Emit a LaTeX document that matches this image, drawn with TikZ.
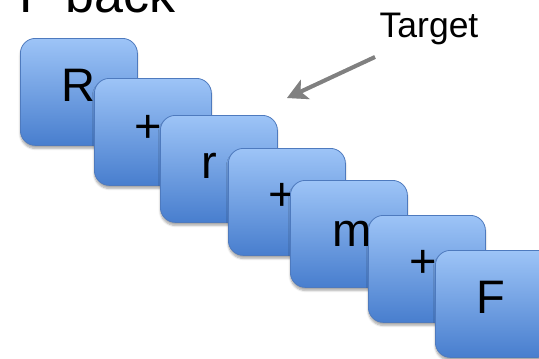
\documentclass[tikz,border=0pt]{standalone}
\usepackage{fontspec}
\setmainfont{Liberation Sans}
\usetikzlibrary{arrows.meta,shadows.blur}

\definecolor{tiletop}{RGB}{157,196,247}
\definecolor{tilebot}{RGB}{72,126,206}
\definecolor{tileedge}{RGB}{78,122,190}
\definecolor{pointer}{RGB}{128,128,128}

\tikzset{
  tile/.style={draw=tileedge, line width=0.8pt, rounded corners=15pt,
    top color=tiletop, bottom color=tilebot,
    minimum width=117pt, minimum height=107pt, inner sep=0pt,
    anchor=north west,
    blur shadow={shadow xshift=0pt, shadow yshift=-3pt,
                 shadow blur steps=6, shadow opacity=35}},
  glyph/.style={font=\fontsize{47}{47}\selectfont, inner sep=0pt, anchor=center},
  caption/.style={font=\fontsize{35.5}{35.5}\selectfont, inner sep=0pt, anchor=base},
  heading/.style={font=\fontsize{52}{52}\selectfont, inner sep=0pt, anchor=base west},
  pointerline/.style={draw=pointer, line width=4pt,
    -{Stealth[length=20pt, width=21pt, inset=5pt]}}
}

\begin{document}
\begin{tikzpicture}[x=1pt, y=-1pt]
  \useasboundingbox (0,0) rectangle (539,359);
  \clip (0,0) rectangle (539,359);

  % heading, running off the top edge
  \node[heading] (head) at (19,12) {F back};

  % the chain of tiles, each one laid over the previous one
  \node[tile] (t1) at (20,38)  {};
  \node[glyph] (g1) at (78,85) {R};
  \node[tile] (t2) at (94,78)  {};
  \node[glyph] (g2) at (148,128.5) {+};
  \node[tile] (t3) at (160,115) {};
  \node[glyph] (g3) at (209.5,166) {r};
  \node[tile] (t4) at (228,148) {};
  \node[glyph] (g4) at (282,197) {+};
  \node[tile] (t5) at (290,180) {};
  \node[glyph] (g5) at (352,233.5) {m};
  \node[tile] (t6) at (368,215) {};
  \node[glyph] (g6) at (423,264) {+};
  \node[tile] (t7) at (435,250) {};
  \node[glyph] (g7) at (491,297.5) {F};

  % target label with its pointer
  \node[caption] (target) at (429,37) {Target};
  \coordinate (pstart) at (375,57);
  \coordinate (pend) at (287,98);
  \draw[pointerline, draw=black, opacity=0.15, shift={(1pt,-3pt)}] (pstart) -- (pend);
  \draw[pointerline] (pstart) -- (pend);
\end{tikzpicture}
\end{document}
